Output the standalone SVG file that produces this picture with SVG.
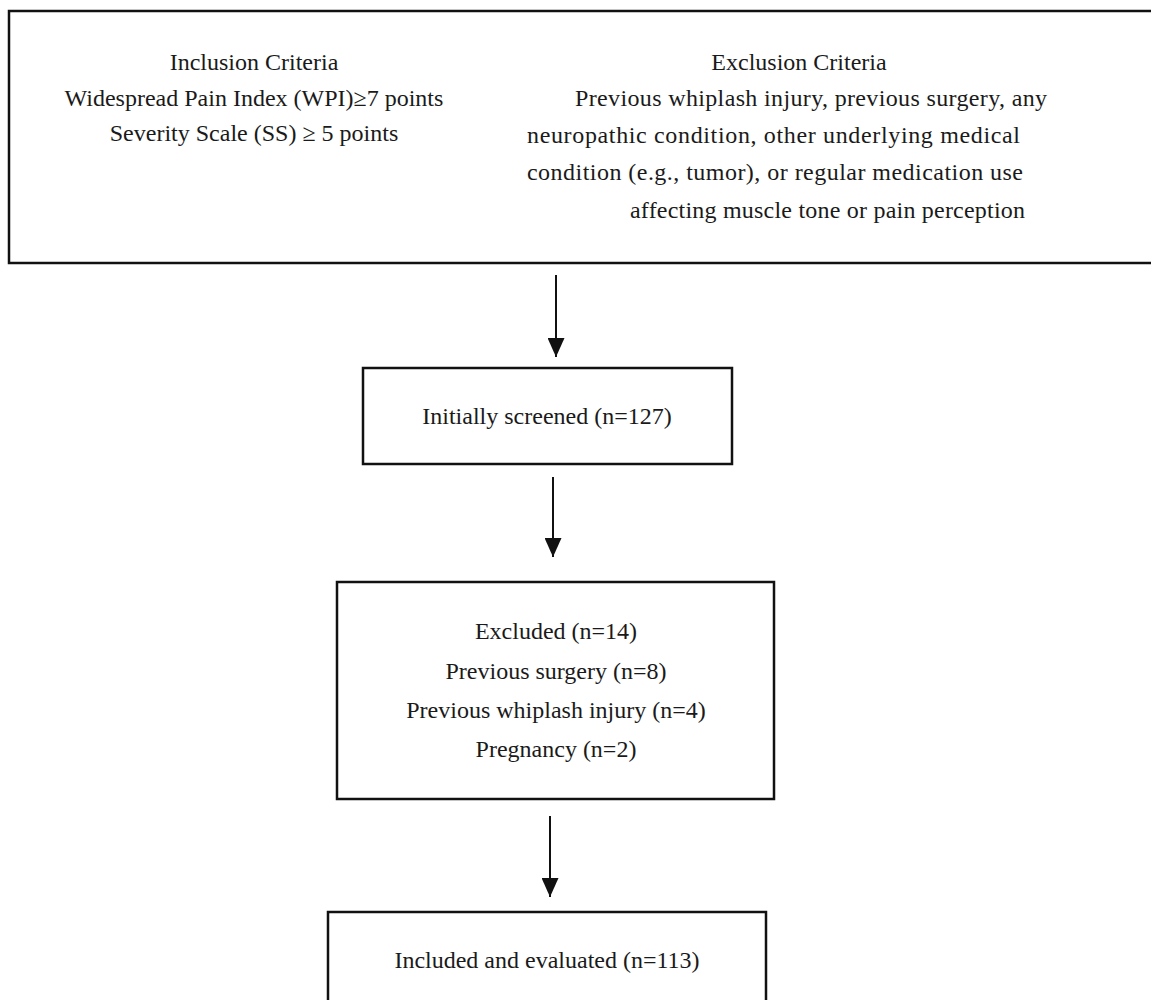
<svg xmlns="http://www.w3.org/2000/svg" width="1151" height="1000" viewBox="0 0 1151 1000">
<style>
text{font-family:"Liberation Serif","Times New Roman",serif;font-size:24px;fill:#1a1a1a}
.box{fill:#fff;stroke:#111;stroke-width:2.5}
.c{text-anchor:middle}
.conn line{stroke:#111;stroke-width:2}
</style>
<defs>
<marker id="ah" markerWidth="19" markerHeight="17" refX="19" refY="8.5" orient="auto" markerUnits="userSpaceOnUse" viewBox="0 0 19 17">
<path d="M0,0 L19,8.5 L0,17 Z" fill="#111"/>
</marker>
</defs>
<rect width="1151" height="1000" fill="#fff"/>
<g id="criteria">
<rect class="box" x="9" y="11" width="1160" height="252"/>
<text class="c" x="254" y="70">Inclusion Criteria</text>
<text class="c" x="254" y="106">Widespread Pain Index (WPI)≥7 points</text>
<text class="c" x="254" y="141">Severity Scale (SS) ≥ 5 points</text>
<text class="c" x="799" y="70">Exclusion Criteria</text>
<text x="575" y="106" textLength="472" lengthAdjust="spacing">Previous whiplash injury, previous surgery, any</text>
<text x="527" y="143" textLength="493" lengthAdjust="spacing">neuropathic condition, other underlying medical</text>
<text x="527" y="180" textLength="496" lengthAdjust="spacing">condition (e.g., tumor), or regular medication use</text>
<text x="630" y="218" textLength="395" lengthAdjust="spacing">affecting muscle tone or pain perception</text>
</g>
<g id="screened">
<rect class="box" x="363" y="368" width="369" height="96"/>
<text class="c" x="547" y="424">Initially screened (n=127)</text>
</g>
<g id="excluded">
<rect class="box" x="337" y="582" width="437" height="217"/>
<text class="c" x="556" y="639">Excluded (n=14)</text>
<text class="c" x="556" y="679">Previous surgery (n=8)</text>
<text class="c" x="556" y="718">Previous whiplash injury (n=4)</text>
<text class="c" x="556" y="757">Pregnancy (n=2)</text>
</g>
<g id="included">
<rect class="box" x="328" y="912" width="438" height="110"/>
<text class="c" x="547" y="968">Included and evaluated (n=113)</text>
</g>
<g class="conn" id="connectors">
<line x1="556" y1="275" x2="556" y2="357" marker-end="url(#ah)"/>
<line x1="553" y1="477" x2="553" y2="557" marker-end="url(#ah)"/>
<line x1="550" y1="816" x2="550" y2="897" marker-end="url(#ah)"/>
</g>
</svg>
